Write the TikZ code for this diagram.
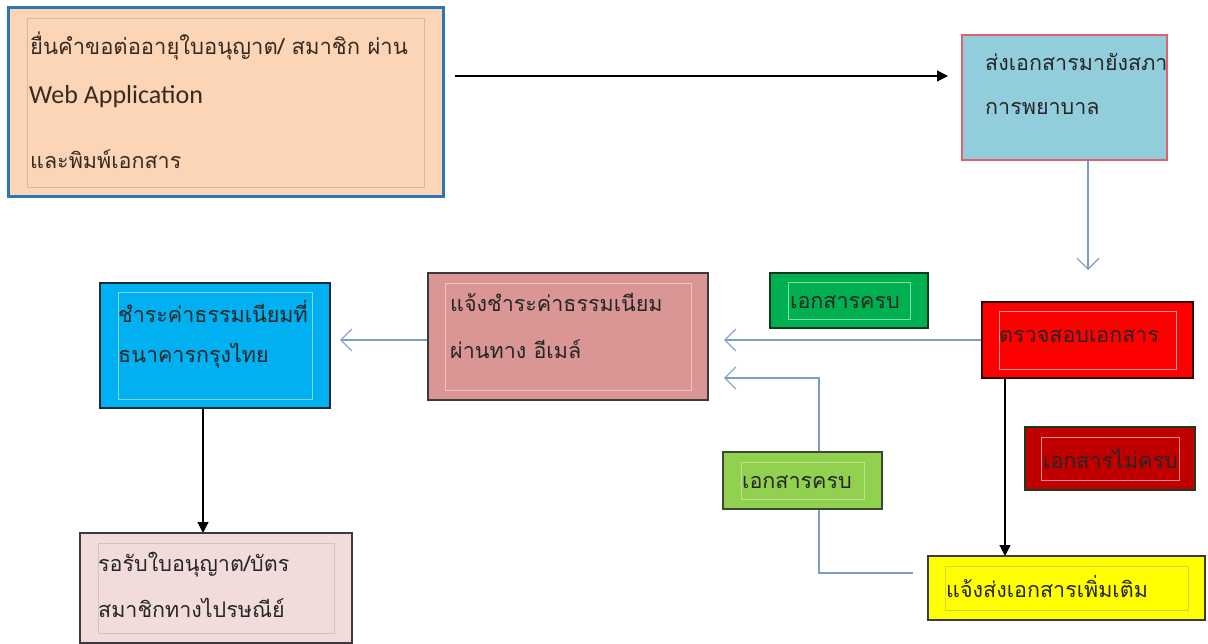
\documentclass[tikz,border=0pt]{standalone}
\usepackage{fontspec}
\newfontfamily\thaifont[Script=Thai]{Loma}
\newfontfamily\latfont{Carlito}
\usetikzlibrary{arrows.meta,calc,backgrounds}
\definecolor{linkcol}{HTML}{7F9CC6}
\definecolor{txtcol}{HTML}{262626}
\definecolor{txtA}{HTML}{3A2A1E}
\definecolor{cAfill}{HTML}{FBD5B5}
\definecolor{cAdraw}{HTML}{2E75B6}
\definecolor{cAin}{HTML}{D8B899}
\definecolor{cBfill}{HTML}{92CDDC}
\definecolor{cBdraw}{HTML}{E0606E}
\definecolor{cCfill}{HTML}{FF0000}
\definecolor{cCdraw}{HTML}{3A0000}
\definecolor{cCin}{HTML}{FF9A9A}
\definecolor{cG1fill}{HTML}{00B050}
\definecolor{cG1draw}{HTML}{0E3A1E}
\definecolor{cG1in}{HTML}{80E0A8}
\definecolor{cDfill}{HTML}{D99694}
\definecolor{cDdraw}{HTML}{3A3A3A}
\definecolor{cDin}{HTML}{EDC4C2}
\definecolor{cG2fill}{HTML}{92D050}
\definecolor{cG2draw}{HTML}{3A4A30}
\definecolor{cG2in}{HTML}{B8E48C}
\definecolor{cRfill}{HTML}{C00000}
\definecolor{cRdraw}{HTML}{1E3A1E}
\definecolor{cRin}{HTML}{FF8C8C}
\definecolor{cYfill}{HTML}{FFFF00}
\definecolor{cYdraw}{HTML}{3A3A3A}
\definecolor{cYin}{HTML}{D2D24A}
\definecolor{cEfill}{HTML}{00B0F0}
\definecolor{cEdraw}{HTML}{1A2A3A}
\definecolor{cEin}{HTML}{80D8F8}
\definecolor{cFfill}{HTML}{F2DCDB}
\definecolor{cFdraw}{HTML}{3A3A3A}
\definecolor{cFin}{HTML}{D6C0C0}
\newcommand\innerrect[4]{\draw[#4, line width=0.8pt] ($(#1.north west)+(#2,#3)$) rectangle ($(#1.south east)+(-#2,-#3)$);}
\begin{document}
\begin{tikzpicture}[x=1pt,y=-1pt,
 box/.style={rectangle, inner sep=0pt, outer sep=0pt, line width=1.3pt},
 txt/.style={anchor=west, inner sep=0pt, font=\thaifont\fontsize{21.5}{21.5}\selectfont, text=txtcol},
 link/.style={draw=linkcol, line width=1.2pt, -{Straight Barb[length=11pt,width=22pt,line width=1.2pt]}},
 blk/.style={draw=black, line width=1.2pt, -{Triangle[length=11pt,width=11pt]}},
]
\useasboundingbox (0,0) rectangle (1208,644);
% boxes
\node[box, draw=cAdraw, fill=cAfill, line width=3pt, minimum width=435pt, minimum height=189pt] (A) at (225.5,102.5) {};
\innerrect{A}{19}{10}{cAin}
\node[box, draw=cBdraw, fill=cBfill, minimum width=205pt, minimum height=125pt] (B) at (1064.5,97.5) {};
\node[box, draw=cCdraw, fill=cCfill, minimum width=211pt, minimum height=76pt] (C) at (1087.5,340) {};
\innerrect{C}{17}{9}{cCin}
\node[box, draw=cG1draw, fill=cG1fill, minimum width=158pt, minimum height=55pt] (G1) at (849,300.5) {};
\innerrect{G1}{18}{9}{cG1in}
\node[box, draw=cDdraw, fill=cDfill, minimum width=280pt, minimum height=127pt] (D) at (568,336.5) {};
\innerrect{D}{17}{10}{cDin}
\node[box, draw=cG2draw, fill=cG2fill, minimum width=159pt, minimum height=57pt] (G2) at (802.5,480.5) {};
\innerrect{G2}{18}{10}{cG2in}
\node[box, draw=cRdraw, fill=cRfill, minimum width=170pt, minimum height=63pt] (R) at (1110,458.5) {};
\innerrect{R}{16}{10}{cRin}
\node[box, draw=cYdraw, fill=cYfill, minimum width=277pt, minimum height=64pt] (Y) at (1066.5,588) {};
\innerrect{Y}{17}{10}{cYin}
\node[box, draw=cEdraw, fill=cEfill, minimum width=230pt, minimum height=125pt] (E) at (215,345.5) {};
\innerrect{E}{18}{9}{cEin}
\node[box, draw=cFdraw, fill=cFfill, minimum width=272pt, minimum height=110pt] (F) at (216,588) {};
\innerrect{F}{18}{10}{cFin}
% texts
\node[txt, text=txtA, font=\thaifont\fontsize{22}{22}\selectfont] (a1) at (30,46) {ยื่นคำขอต่ออายุใบอนุญาต/ สมาชิก ผ่าน};
\node[txt, text=txtA, font=\latfont\fontsize{26}{26}\selectfont] (a2) at (29,97) {Web Application};
\node[txt, text=txtA] (a3) at (30,159) {และพิมพ์เอกสาร};
\node[txt] (b1) at (985,62) {ส่งเอกสารมายังสภา};
\node[txt] (b2) at (985,109) {การพยาบาล};
\node[txt] (c1) at (999,336) {ตรวจสอบเอกสาร};
\node[txt] (g1) at (790,302) {เอกสารครบ};
\node[txt] (d1) at (450,302) {แจ้งชำระค่าธรรมเนียม};
\node[txt] (d2) at (450,349) {ผ่านทาง อีเมล์};
\node[txt] (g2) at (742,482) {เอกสารครบ};
\node[txt] (r1) at (1043,459) {เอกสารไม่ครบ};
\node[txt] (y1) at (946,587) {แจ้งส่งเอกสารเพิ่มเติม};
\node[txt] (e1) at (118,312) {ชำระค่าธรรมเนียมที่};
\node[txt] (e2) at (118,356) {ธนาคารกรุงไทย};
\node[txt] (f1) at (98,565) {รอรับใบอนุญาต/บัตร};
\node[txt] (f2) at (98,608) {สมาชิกทางไปรษณีย์};
% connectors
\begin{scope}[on background layer]
\draw[blk] ($(A.east)+(12,-26.5)$) -- ($(B.west)+(-14,-21.5)$);
\draw[link] ($(B.south)+(23.5,0)$) -- ($(C.north)+(0.5,-32)$);
\draw[link] (C.west) -- ($(D.east)+(16,3.5)$);
\draw[link] ($(Y.west)+(-15,-15)$) -| ($(D.east)+(111,41.5)$) -- ($(D.east)+(16,41.5)$);
\draw[blk] ($(C.south)+(-82.5,0)$) -- ($(Y.north)+(-61.5,0)$);
\draw[link] ($(D.west)+(0,3.5)$) -- ($(E.east)+(10,-5.5)$);
\draw[blk] ($(E.south)+(-12,0)$) -- ($(F.north)+(-13,0)$);
\end{scope}
\end{tikzpicture}
\end{document}
